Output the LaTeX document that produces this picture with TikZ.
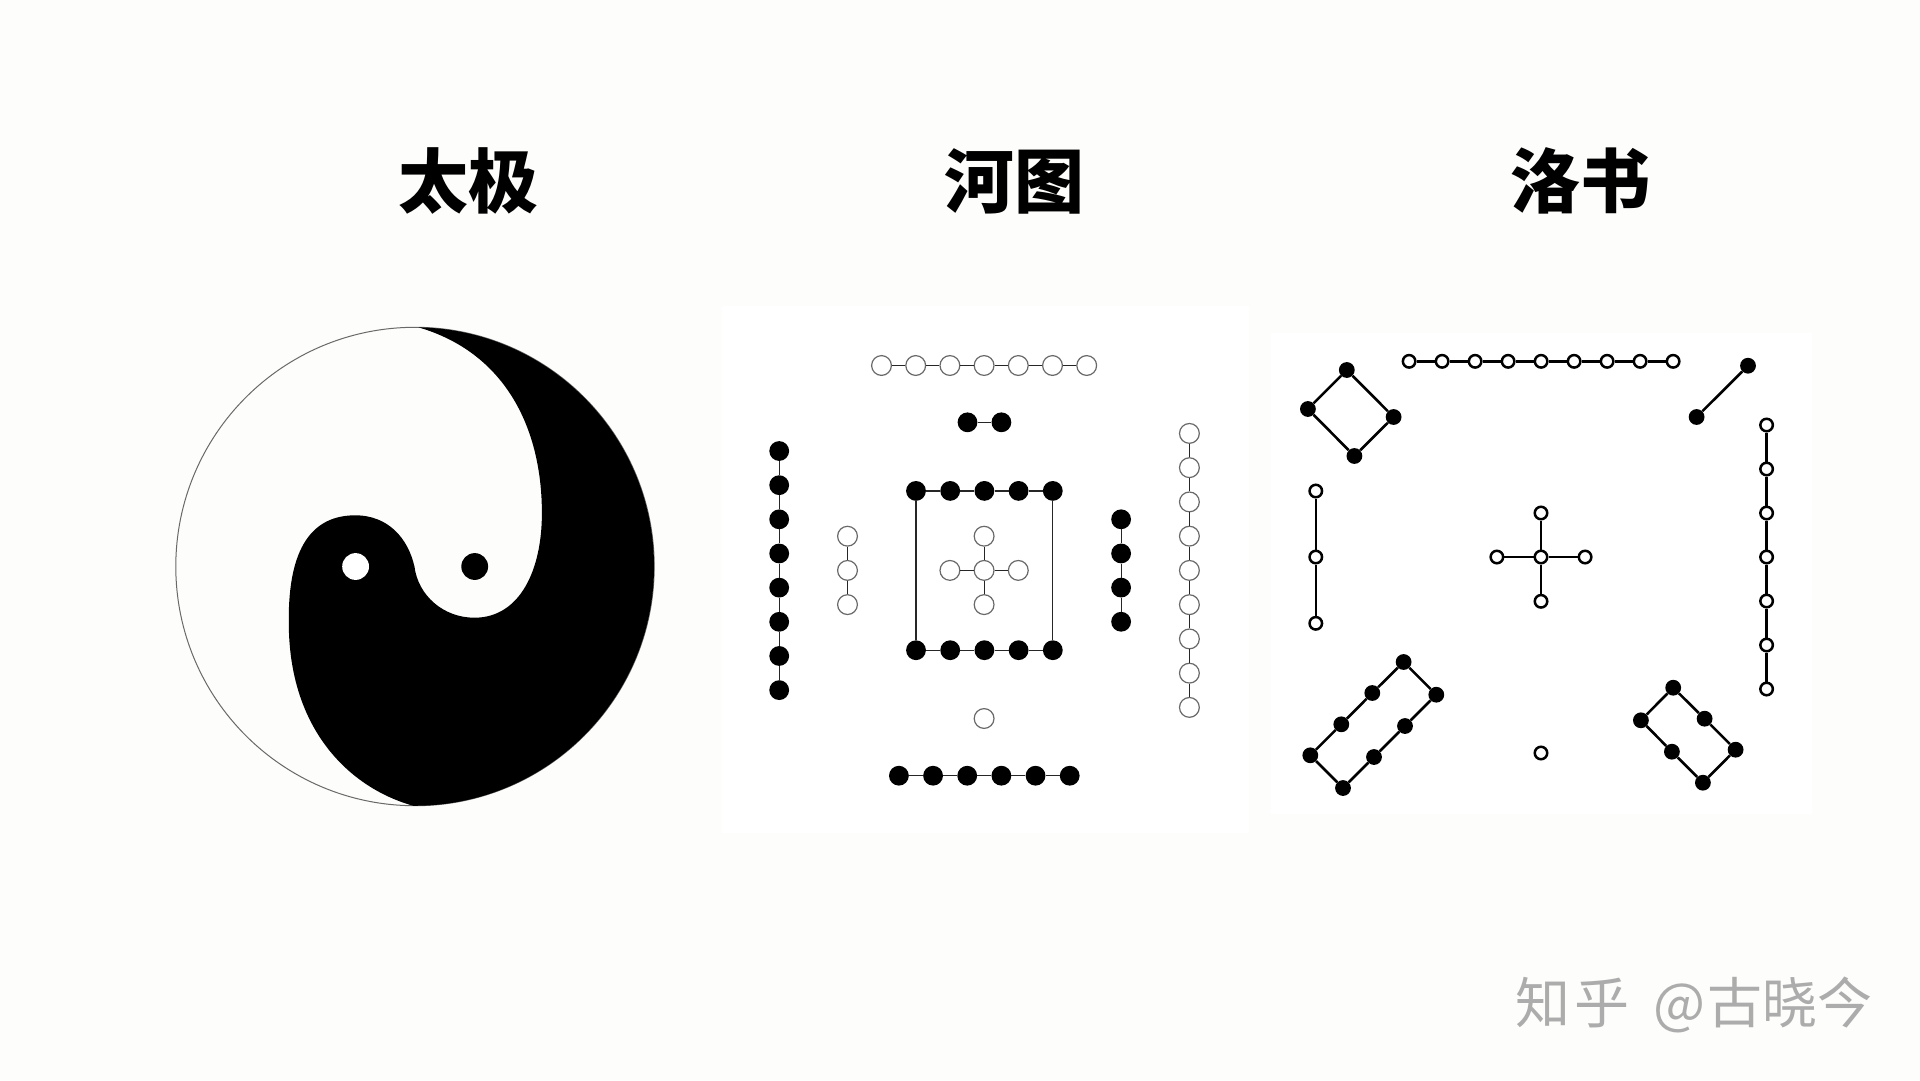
\documentclass[tikz,border=0pt]{standalone}
\usepackage{fontspec}
\usepackage{xcolor}
\usepackage{tikz}
\newfontfamily\cjk{Noto Sans CJK SC}
\definecolor{PageBg}{RGB}{253, 253, 251}
\definecolor{Mark}{RGB}{0, 0, 0}
\definecolor{Rim}{RGB}{105, 105, 105}
\definecolor{Stamp}{RGB}{172, 172, 172}
\tikzset{
  title/.style={font=\cjk\bfseries\fontsize{70}{70}\selectfont, Mark, inner sep=0pt},
  heOpen/.style={circle, draw=Rim, line width=1.2pt, fill=white, minimum size=19.8pt, inner sep=0pt},
  heDark/.style={circle, fill=Mark, minimum size=19.8pt, inner sep=0pt},
  heLine/.style={line width=1.2pt, draw=Mark!85},
  luOpen/.style={circle, draw=Mark, line width=2.5pt, fill=white, minimum size=12.5pt, inner sep=0pt},
  luDark/.style={circle, fill=Mark, minimum size=15.8pt, inner sep=0pt},
  luLine/.style={line width=2.6pt, draw=Mark},
}
\begin{document}
\begin{tikzpicture}[x=1pt,y=-1pt]
\useasboundingbox (0,0) rectangle (1920,1080);
\fill[PageBg] (0,0) rectangle (1920,1080);
\fill[white] (722,306) rectangle (1249,833);
\fill[white] (1271,333) rectangle (1812,814);

\node[title] (taiji) at (468,181) {太极};
\node[title] (hetu) at (1014,181) {河图};
\node[title] (luoshu) at (1580,181) {洛书};
\node[font=\cjk\fontsize{55}{55}\selectfont, Stamp, inner sep=0pt] (stamp) at (1693.5,1005) {知\hspace{5pt}乎\hspace{24pt}@\hspace{1pt}古晓今};

% taiji
\draw[Rim, line width=1pt] (415,566.5) circle[radius=239.2pt];
\fill[Mark] (418.6,327.4) arc[start angle=89.1, end angle=-90.4, radius=239.2pt]
  .. controls (350,788) and (289,730) .. (288.8,623.3)
  .. controls (288,565) and (302,515.3) .. (355.2,515.3)
  .. controls (388,515.3) and (408,538) .. (414.5,566.7)
  .. controls (418,595) and (443,617.7) .. (474.4,617.7)
  .. controls (520,617.7) and (541.9,570) .. (541.9,513.3)
  .. controls (541.9,425) and (503,352) .. (418.6,327.4) -- cycle;
\node[circle, fill=white, minimum size=26.8pt, inner sep=0pt] (eyeOpen) at (355.6,566.5) {};
\node[circle, fill=Mark, minimum size=26.8pt, inner sep=0pt] (eyeDark) at (474.7,566.5) {};

% hetu
\foreach \i in {1,...,7} \node[heOpen] (a\i) at ({984.1+(\i-4)*34.2},365.5) {};
\foreach \i [count=\j from 2] in {1,...,6} \draw[heLine] (a\i) -- (a\j);
\node[heDark] (b1) at (967.5,422.3) {};
\node[heDark] (b2) at (1001.4,422.3) {};
\draw[heLine] (b1) -- (b2);
\foreach \i in {1,...,8} \node[heDark] (c\i) at (779.2,{451+(\i-1)*34.16}) {};
\foreach \i [count=\j from 2] in {1,...,7} \draw[heLine] (c\i) -- (c\j);
\foreach \i in {1,...,3} \node[heOpen] (d\i) at (847.5,{570.4+(\i-2)*34.2}) {};
\foreach \i [count=\j from 2] in {1,...,2} \draw[heLine] (d\i) -- (d\j);
\foreach \i in {1,...,5} {
  \node[heDark] (e\i) at ({984.4+(\i-3)*34.2},490.9) {};
  \node[heDark] (f\i) at ({984.4+(\i-3)*34.2},650.2) {};
}
\foreach \i [count=\j from 2] in {1,...,4} {
  \draw[heLine] (e\i) -- (e\j);
  \draw[heLine] (f\i) -- (f\j);
}
\draw[heLine] (e1) -- (f1);
\draw[heLine] (e5) -- (f5);
\node[heOpen] (g0) at (984.1,570.4) {};
\node[heOpen] (g1) at (949.9,570.4) {};
\node[heOpen] (g2) at (1018.3,570.4) {};
\node[heOpen] (g3) at (984.1,536.2) {};
\node[heOpen] (g4) at (984.1,604.6) {};
\foreach \i in {1,...,4} \draw[heLine] (g0) -- (g\i);
\foreach \i in {1,...,4} \node[heDark] (h\i) at (1121.1,{519.3+(\i-1)*34.15}) {};
\foreach \i [count=\j from 2] in {1,...,3} \draw[heLine] (h\i) -- (h\j);
\foreach \i in {1,...,9} \node[heOpen] (k\i) at (1189.4,{433.4+(\i-1)*34.25}) {};
\foreach \i [count=\j from 2] in {1,...,8} \draw[heLine] (k\i) -- (k\j);
\node[heOpen] (m1) at (984.1,718.5) {};
\foreach \i in {1,...,6} \node[heDark] (n\i) at ({898.9+(\i-1)*34.16},775.7) {};
\foreach \i [count=\j from 2] in {1,...,5} \draw[heLine] (n\i) -- (n\j);

% luoshu
\foreach \i in {1,...,9} \node[luOpen] (p\i) at ({1409.1+(\i-1)*33},361.3) {};
\foreach \i [count=\j from 2] in {1,...,8} \draw[luLine] (p\i) -- (p\j);
\node[luDark] (q1) at (1748,365.7) {};
\node[luDark] (q2) at (1696.6,417) {};
\draw[luLine] (q1) -- (q2);
\foreach \i/\x/\y in {1/1346.8/370, 2/1393.6/417, 3/1354.4/456, 4/1307.9/409}
  \node[luDark] (r\i) at (\x,\y) {};
\draw[luLine] (r1) -- (r2) -- (r3) -- (r4) -- (r1);
\foreach \i/\y in {1/491, 2/557, 3/623.3} \node[luOpen] (s\i) at (1315.8,\y) {};
\draw[luLine] (s1) -- (s2) -- (s3);
\node[luOpen] (t0) at (1541,557) {};
\node[luOpen] (t1) at (1496.9,557) {};
\node[luOpen] (t2) at (1585.1,557) {};
\node[luOpen] (t3) at (1541,513) {};
\node[luOpen] (t4) at (1541,601.3) {};
\foreach \i in {1,...,4} \draw[luLine] (t0) -- (t\i);
\foreach \i in {1,...,7} \node[luOpen] (u\i) at (1766.6,{425+(\i-1)*44}) {};
\foreach \i [count=\j from 2] in {1,...,6} \draw[luLine] (u\i) -- (u\j);
\foreach \i/\x/\y in {1/1403.6/662, 2/1372.3/693, 3/1341.3/724.3, 4/1310.3/755.3, 5/1343/788, 6/1374/757, 7/1405/726, 8/1436.3/694.7}
  \node[luDark] (v\i) at (\x,\y) {};
\draw[luLine] (v1) -- (v2) -- (v3) -- (v4) -- (v5) -- (v6) -- (v7) -- (v8) -- (v1);
\node[luOpen] (w1) at (1541,753) {};
\foreach \i/\x/\y in {1/1673.2/687.7, 2/1704.6/718.7, 3/1735.6/749.7, 4/1702.9/782.7, 5/1671.9/751.7, 6/1640.9/720.3}
  \node[luDark] (z\i) at (\x,\y) {};
\draw[luLine] (z1) -- (z2) -- (z3) -- (z4) -- (z5) -- (z6) -- (z1);
\end{tikzpicture}
\end{document}
